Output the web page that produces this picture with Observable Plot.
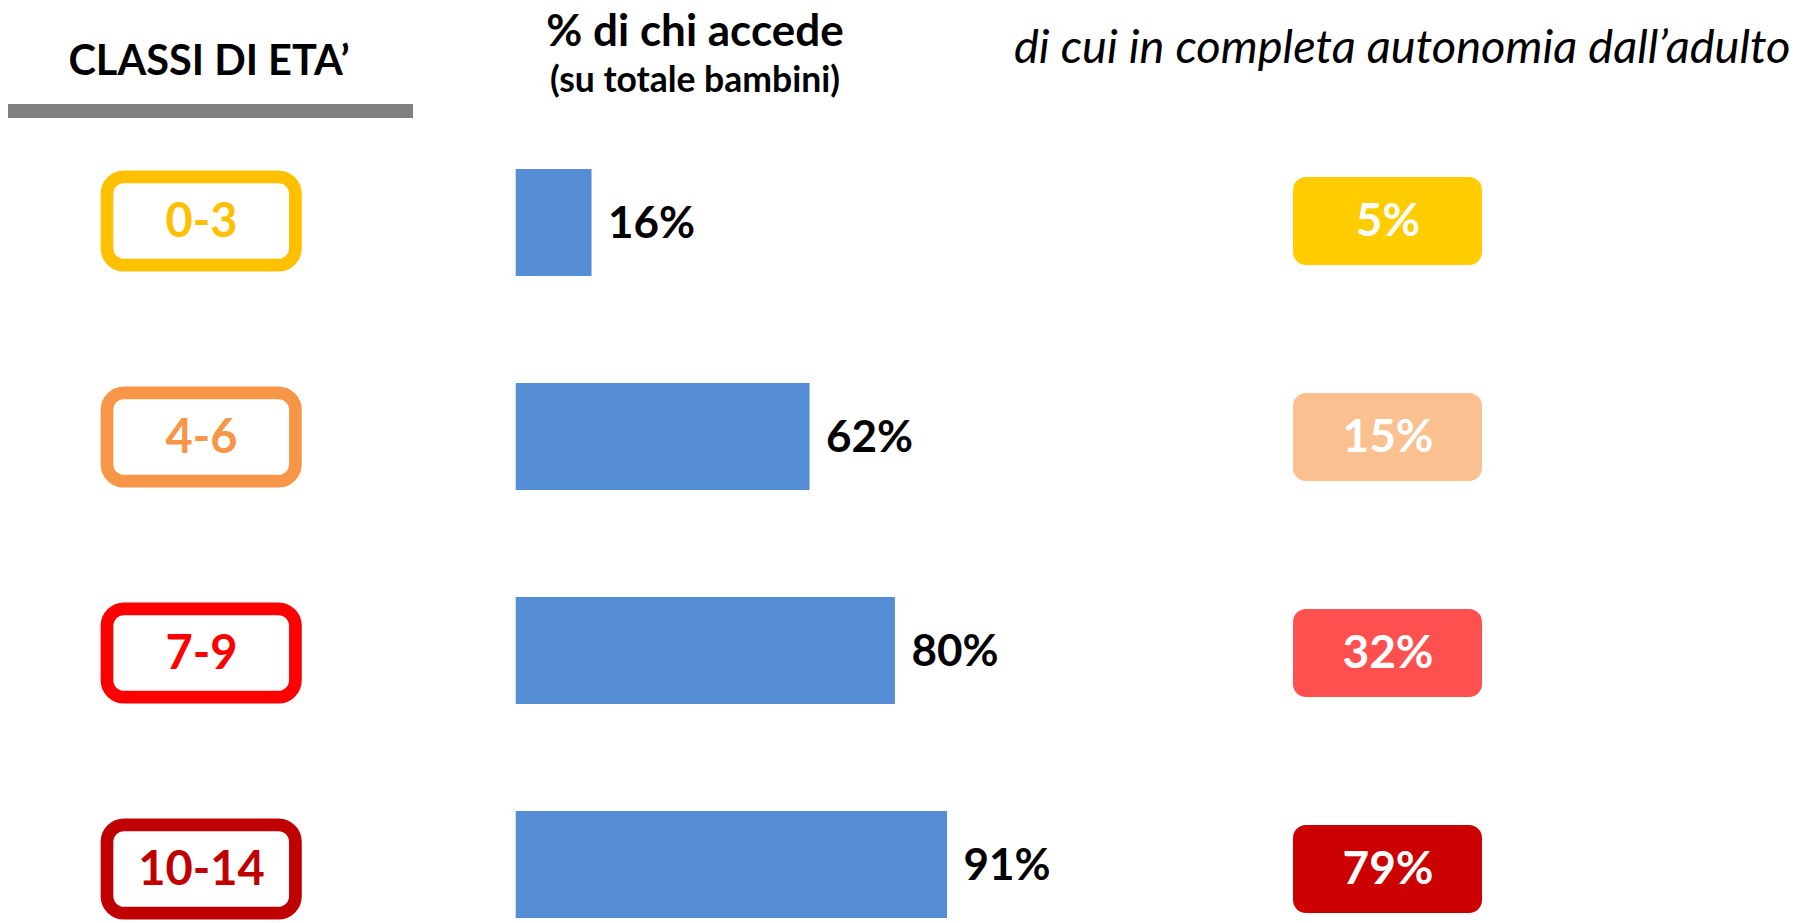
<!DOCTYPE html>
<html>
<head>
<meta charset="utf-8">
<script src="https://cdn.jsdelivr.net/npm/d3@7"></script>
<script src="https://cdn.jsdelivr.net/npm/@observablehq/plot@0.6"></script>
<style>
  html, body { margin: 0; padding: 0; background: #fff; }
  #wrap { position: relative; width: 1806px; height: 923px; overflow: hidden; font-family: Lato, "Open Sans", sans-serif; }
  .hdr { position: absolute; line-height: 1; white-space: nowrap; color: #000; }
  .abs { position: absolute; top: 0; }
</style>
</head>
<body>
<div id="wrap">
  <div class="hdr" id="h1" style="left:0;width:418px;text-align:center;top:39px;font-size:41.5px;font-weight:700;">CLASSI DI ETA’</div>
  <div id="rule" style="position:absolute;left:8px;top:104px;width:405px;height:14px;background:#808080;"></div>
  <div class="hdr" id="h2" style="left:495px;width:400px;text-align:center;top:7px;font-size:44px;font-weight:700;">% di chi accede</div>
  <div class="hdr" id="h3" style="left:495px;width:400px;text-align:center;top:61px;font-size:35.5px;font-weight:700;">(su totale bambini)</div>
  <div class="hdr" id="h4" style="left:1014px;top:22px;font-size:47px;font-style:italic;font-weight:400;">di cui in completa autonomia dall’adulto</div>
  <div class="abs" id="p1" style="left:0;"></div>
  <div class="abs" id="p2" style="left:402px;"></div>
  <div class="abs" id="p3" style="left:1200px;"></div>
</div>
<script>
// ---- data ----
const ages = ["0-3", "4-6", "7-9", "10-14"];
const accede = [16, 62, 80, 91];          // % di chi accede (su totale bambini)
const autonomia = [5, 15, 32, 79];        // di cui in completa autonomia dall'adulto
const ageColors = ["#FFC000", "#F79646", "#FF0000", "#C00000"];
const autColors = ["#FFCC00", "#FAC090", "#FF5050", "#CC0000"];
const barColor = "#558ED5";

const rows = ages.map((a, i) => ({age: a, accede: accede[i], aut: autonomia[i]}));

const H = 923;
const yScale = {type: "band", domain: ages, paddingInner: 0.5, paddingOuter: 0, axis: null};
const style = {fontFamily: "Lato, 'Open Sans', sans-serif", background: "transparent", overflow: "visible"};
const barsFrame = {height: H, marginTop: 168, marginBottom: 5, style};
const boxFrame = {height: H, marginTop: 166, marginBottom: 0, style};

// Left column: age classes in outlined rounded boxes
const p1 = Plot.plot({
  ...boxFrame,
  width: 402, marginLeft: 0, marginRight: 0,
  y: yScale,
  color: {domain: ages, range: ageColors},
  marks: [
    Plot.cell(rows, {y: "age", fill: "white", stroke: "age", strokeWidth: 12.7, rx: 17, ry: 17,
      insetLeft: 107, insetRight: 106.6, insetTop: 9.8, insetBottom: 9.8}),
    Plot.text(rows, {y: "age", text: "age", fill: "age", fontSize: 47, fontWeight: 700, frameAnchor: "middle", dy: 0})
  ]
});

// Middle column: bars
const p2 = Plot.plot({
  ...barsFrame,
  width: 798, marginLeft: 113.7, marginRight: 210.3,
  x: {domain: [0, 100], axis: null},
  y: yScale,
  marks: [
    Plot.barX(rows, {x: "accede", y: "age", fill: barColor}),
    Plot.text(rows, {x: "accede", y: "age", text: d => d.accede + "%", textAnchor: "start", dx: 16, dy: 1,
      fontSize: 44, fontWeight: 700, fill: "black"})
  ]
});

// Right column: filled rounded boxes
const p3 = Plot.plot({
  ...boxFrame,
  width: 606, marginLeft: 0, marginRight: 231,
  y: yScale,
  color: {domain: ages, range: autColors},
  marks: [
    Plot.cell(rows, {y: "age", fill: "age", rx: 13, ry: 13,
      insetLeft: 93, insetRight: 93, insetTop: 9.9, insetBottom: 9.9}),
    Plot.text(rows, {y: "age", text: d => d.aut + "%", fill: "white", fontSize: 46, fontWeight: 700, frameAnchor: "middle", dy: 0})
  ]
});

document.getElementById("p1").appendChild(p1);
document.getElementById("p2").appendChild(p2);
document.getElementById("p3").appendChild(p3);
</script>
</body>
</html>
